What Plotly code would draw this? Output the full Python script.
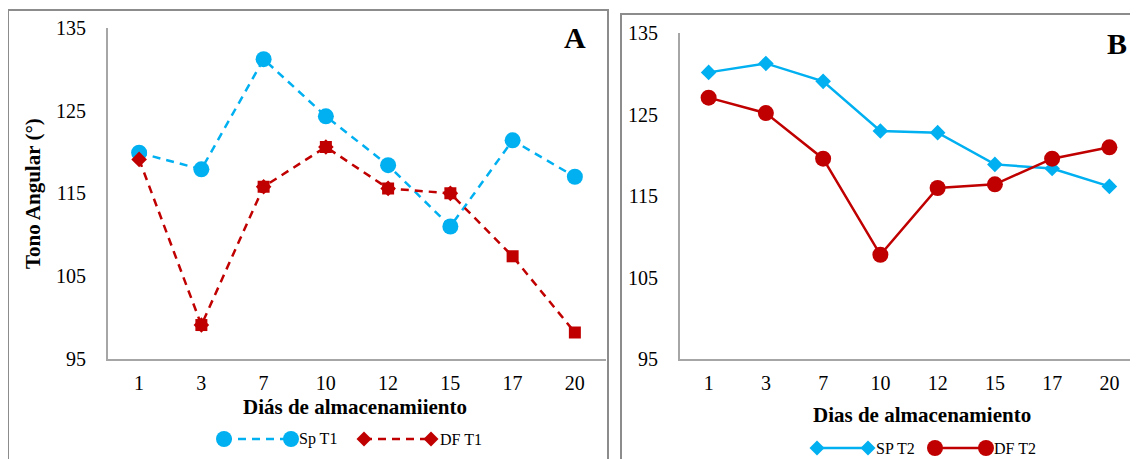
import plotly.graph_objects as go

# ---------------- data ----------------
days = ["1", "3", "7", "10", "12", "15", "17", "20"]
sp_t1 = [119.9, 117.9, 131.2, 124.3, 118.4, 111.0, 121.4, 117.0]
df_t1 = [119.1, 99.1, 115.8, 120.6, 115.6, 115.0, 107.4, 98.2]
sp_t2 = [130.2, 131.3, 129.1, 123.0, 122.8, 118.9, 118.4, 116.2]
df_t2 = [127.1, 125.2, 119.6, 107.8, 116.0, 116.45, 119.6, 121.0]
y_ticks = [95, 105, 115, 125, 135]

# ---------------- style ----------------
W, H = 1138, 459
OX, OY = -8, -8          # compensate for the page's default body margin
BLUE = "#00B0F0"
RED = "#C00000"
GRAY = "#A6A6A6"
BOX = "#8C8C8C"
FONT = "Liberation Serif"
df_t1_symbols = ["diamond"] * 6 + ["square"] * 2
df_t1_star = [False, True, True, True, True, True, False, False]


def px(x):
    return (x + OX) / W


def py(y):
    return 1 - (y + OY) / H


fig = go.Figure()

# Panel A
fig.add_trace(go.Scatter(
    x=days, y=sp_t1, mode="lines+markers", name="Sp T1",
    line=dict(color=BLUE, width=2.5, dash="8px,6px"),
    marker=dict(symbol="circle", size=16, color=BLUE),
    xaxis="x", yaxis="y", showlegend=False))
fig.add_trace(go.Scatter(
    x=days, y=df_t1, mode="lines+markers", name="DF T1",
    line=dict(color=RED, width=2.5, dash="8px,6px"),
    marker=dict(symbol=df_t1_symbols, size=12, color=RED),
    xaxis="x", yaxis="y", showlegend=False))
fig.add_trace(go.Scatter(
    x=days, y=[v if s else None for v, s in zip(df_t1, df_t1_star)],
    mode="markers", marker=dict(symbol="square", size=12, color=RED),
    xaxis="x", yaxis="y", showlegend=False, hoverinfo="skip"))

# Panel B
fig.add_trace(go.Scatter(
    x=days, y=sp_t2, mode="lines+markers", name="SP T2",
    line=dict(color=BLUE, width=2.5),
    marker=dict(symbol="diamond", size=12, color=BLUE),
    xaxis="x2", yaxis="y2", showlegend=False))
fig.add_trace(go.Scatter(
    x=days, y=df_t2, mode="lines+markers", name="DF T2",
    line=dict(color=RED, width=2.5),
    marker=dict(symbol="circle", size=16, color=RED),
    xaxis="x2", yaxis="y2", showlegend=False))

xcommon = dict(type="category", range=[-0.5, 7.5], showline=True, linecolor=GRAY,
               linewidth=2, showgrid=False, zeroline=False, ticks="",
               tickfont=dict(family=FONT, size=20, color="black"),
               ticklabelstandoff=5, fixedrange=True, automargin=False)
ycommon = dict(range=[95, 135], tickvals=y_ticks, showline=True, linecolor=GRAY,
               linewidth=2, showgrid=False, zeroline=False, ticks="",
               tickfont=dict(family=FONT, size=20, color="black"),
               ticklabelstandoff=16, fixedrange=True, automargin=False)

fig.update_layout(
    width=W, height=H, margin=dict(l=0, r=0, t=0, b=0, autoexpand=False),
    paper_bgcolor="white", plot_bgcolor="white",
    xaxis=dict(domain=[px(108), px(606)], anchor="y", **xcommon),
    yaxis=dict(domain=[py(359), py(27.7)], anchor="x", **ycommon),
    xaxis2=dict(domain=[px(680), min(1.0, px(1138))], anchor="y2", **xcommon),
    yaxis2=dict(domain=[py(359), py(33.3)], anchor="x2", **ycommon),
    showlegend=False,
)

shapes = []
# panel boxes
shapes.append(dict(type="rect", xref="paper", yref="paper", x0=px(8), x1=px(608),
                   y0=-0.2, y1=py(10), line=dict(color=BOX, width=2)))
shapes.append(dict(type="rect", xref="paper", yref="paper", x0=px(621), x1=1.2,
                   y0=-0.2, y1=py(14), line=dict(color=BOX, width=2)))


def leg_line(x0, x1, y, color, dash):
    shapes.append(dict(type="line", xref="paper", yref="paper", x0=px(x0), x1=px(x1),
                       y0=py(y), y1=py(y), line=dict(color=color, width=2.5, dash=dash)))


def leg_circle(x, y, color, r=8):
    shapes.append(dict(type="circle", xref="paper", yref="paper",
                       xsizemode="pixel", ysizemode="pixel",
                       xanchor=px(x), yanchor=py(y), x0=-r, x1=r, y0=-r, y1=r,
                       fillcolor=color, line=dict(color=color, width=0)))


def leg_diamond(x, y, color, r=7.5):
    shapes.append(dict(type="path", xref="paper", yref="paper",
                       xsizemode="pixel", ysizemode="pixel",
                       xanchor=px(x), yanchor=py(y),
                       path=f"M {-r} 0 L 0 {r} L {r} 0 L 0 {-r} Z",
                       fillcolor=color, line=dict(color=color, width=0)))


# legend A
leg_line(224, 291, 439, BLUE, "8px,6px")
leg_circle(224, 439, BLUE)
leg_circle(291, 439, BLUE)
leg_line(364, 431, 439, RED, "8px,6px")
leg_diamond(364, 439, RED)
leg_diamond(431, 439, RED)
# legend B
leg_line(817, 868, 448, BLUE, "solid")
leg_diamond(817, 448, BLUE)
leg_diamond(868, 448, BLUE)
leg_line(935, 986, 448, RED, "solid")
leg_circle(935, 448, RED)
leg_circle(986, 448, RED)

fig.update_layout(shapes=shapes)


def ann(text, x, y, size, bold=False, xanchor="center", angle=0):
    fig.add_annotation(text=f"<b>{text}</b>" if bold else text,
                       xref="paper", yref="paper", x=px(x), y=py(y),
                       xanchor=xanchor, yanchor="middle", showarrow=False,
                       textangle=angle,
                       font=dict(family=FONT, size=size, color="black"))


ann("Diás de almacenamiiento", 355, 407, 21, bold=True)
ann("Dias de almacenamiento", 922, 415, 21, bold=True)
ann("Tono Angular (°)", 33, 194, 21, bold=True, angle=-90)
ann("A", 575, 38, 30, bold=True)
ann("B", 1117, 43, 30, bold=True)
ann("Sp T1", 297, 439, 16, xanchor="left")
ann("DF T1", 438, 439, 16, xanchor="left")
ann("SP T2", 874, 448, 16, xanchor="left")
ann("DF T2", 992, 448, 16, xanchor="left")

fig.write_html("out.html")
